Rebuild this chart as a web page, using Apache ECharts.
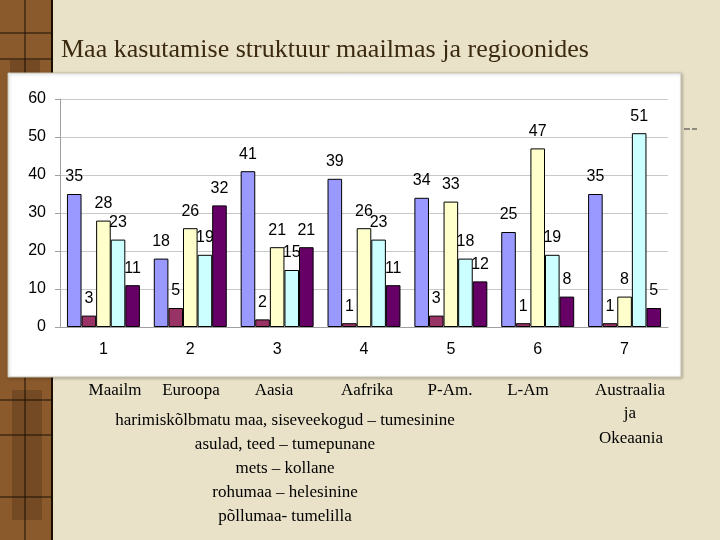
<!DOCTYPE html>
<html>
<head>
<meta charset="utf-8">
<script src="https://cdn.jsdelivr.net/npm/echarts@6/dist/echarts.min.js"></script>
<style>
  html, body { margin: 0; padding: 0; background: #e9e2c9; }
  #main { width: 720px; height: 540px; }
</style>
</head>
<body>
<div id="main"></div>
<script>
// kategooriad (regioonid 1..7)
var categories = ["1", "2", "3", "4", "5", "6", "7"];
var seriesNames = ["harimiskõlbmatu maa", "asulad, teed", "mets", "rohumaa", "põllumaa"];
var unusable = [35, 18, 41, 39, 34, 25, 35];
var settlements = [3, 5, 2, 1, 3, 1, 1];
var forest = [28, 26, 21, 26, 33, 47, 8];
var grassland = [23, 19, 15, 23, 18, 19, 51];
var cropland = [11, 32, 21, 11, 12, 8, 5];
var colors = ["#9999ff", "#993366", "#ffffcc", "#ccffff", "#660066"];
var regionLabels = ["Maailm", "Euroopa", "Aasia", "Aafrika", "P-Am.", "L-Am"];
var legendLines = [
  "harimiskõlbmatu maa, siseveekogud – tumesinine",
  "asulad, teed – tumepunane",
  "mets – kollane",
  "rohumaa – helesinine",
  "põllumaa- tumelilla"
];

var myChart = echarts.init(document.getElementById("main"));

var values = [unusable, settlements, forest, grassland, cropland];
var series = values.map(function (d, i) {
  return {
    name: seriesNames[i],
    type: "bar",
    data: d,
    barGap: "0%",
    barCategoryGap: "16%",
    itemStyle: { color: colors[i], borderColor: "#000", borderWidth: 1 },
    label: {
      show: true,
      position: "top",
      distance: 9,
      color: "#000",
      fontFamily: "Liberation Sans",
      fontSize: 16
    }
  };
});

var serif = "Liberation Serif";
var graphics = [
  // vasak pruun riba
  { type: "rect", z: -10, shape: { x: 0, y: 0, width: 52, height: 540 }, style: { fill: "#8a5a2c" } },
  { type: "rect", z: -9, shape: { x: 10, y: 60, width: 30, height: 120 }, style: { fill: "#5e3a1c", opacity: 0.5 } },
  { type: "rect", z: -9, shape: { x: 12, y: 390, width: 30, height: 130 }, style: { fill: "#5e3a1c", opacity: 0.5 } },
  { type: "line", z: -8, shape: { x1: 25, y1: 0, x2: 25, y2: 540 }, style: { stroke: "#1a0e04", lineWidth: 1 } },
  { type: "line", z: -8, shape: { x1: 52, y1: 0, x2: 52, y2: 540 }, style: { stroke: "#1a0e04", lineWidth: 2 } },
  { type: "line", z: -8, shape: { x1: 0, y1: 33, x2: 52, y2: 33 }, style: { stroke: "#1a0e04", lineWidth: 1 } },
  { type: "line", z: -8, shape: { x1: 0, y1: 59, x2: 52, y2: 59 }, style: { stroke: "#1a0e04", lineWidth: 1 } },
  { type: "line", z: -8, shape: { x1: 0, y1: 400, x2: 52, y2: 400 }, style: { stroke: "#1a0e04", lineWidth: 1 } },
  { type: "line", z: -8, shape: { x1: 0, y1: 435, x2: 52, y2: 435 }, style: { stroke: "#1a0e04", lineWidth: 1 } },
  { type: "line", z: -8, shape: { x1: 0, y1: 497, x2: 52, y2: 497 }, style: { stroke: "#1a0e04", lineWidth: 1 } },
  // valge diagrammikast
  { type: "rect", z: -5, shape: { x: 8, y: 73, width: 673, height: 304 },
    style: { fill: "#fff", stroke: "#c8c2b0", lineWidth: 1, shadowBlur: 3, shadowColor: "rgba(0,0,0,0.25)", shadowOffsetX: 1, shadowOffsetY: 1 } },
  { type: "line", shape: { x1: 684, y1: 129, x2: 690, y2: 129 }, style: { stroke: "#333", lineWidth: 1 } },
  { type: "line", shape: { x1: 692, y1: 129, x2: 697, y2: 129 }, style: { stroke: "#333", lineWidth: 1 } },
  // pealkiri
  { type: "text", left: 61, top: 37, style: { text: "Maa kasutamise struktuur maailmas ja regioonides", fill: "#3b2a10", font: "26px " + serif } }
];

var regionX = [115, 191, 274, 367, 450, 528];
regionLabels.forEach(function (t, i) {
  graphics.push({ type: "text", x: regionX[i], y: 391, style: { text: t, fill: "#000", font: "17px " + serif, align: "center", verticalAlign: "middle" } });
});
graphics.push({ type: "text", x: 630, y: 391, style: { text: "Austraalia", fill: "#000", font: "17px " + serif, align: "center", verticalAlign: "middle" } });
graphics.push({ type: "text", x: 630, y: 414, style: { text: "ja", fill: "#000", font: "17px " + serif, align: "center", verticalAlign: "middle" } });
graphics.push({ type: "text", x: 631, y: 439, style: { text: "Okeaania", fill: "#000", font: "17px " + serif, align: "center", verticalAlign: "middle" } });
legendLines.forEach(function (t, i) {
  graphics.push({ type: "text", x: 285, y: 421 + i * 24, style: { text: t, fill: "#000", font: "17px " + serif, align: "center", verticalAlign: "middle" } });
});

myChart.setOption({
  animation: false,
  backgroundColor: "#e9e2c9",
  grid: { left: 60, right: 52, top: 99, bottom: 213 },
  xAxis: {
    type: "category",
    data: categories,
    axisLine: { lineStyle: { color: "#a0a0a0" } },
    axisTick: { length: 5, lineStyle: { color: "#a0a0a0" } },
    axisLabel: { color: "#000", fontFamily: "Liberation Sans", fontSize: 16, margin: 15 }
  },
  yAxis: {
    type: "value",
    min: 0,
    max: 60,
    interval: 10,
    axisLine: { show: true, lineStyle: { color: "#a0a0a0" } },
    axisTick: { show: true, length: 5, lineStyle: { color: "#a0a0a0" } },
    axisLabel: { color: "#000", fontFamily: "Liberation Sans", fontSize: 16, margin: 14 },
    splitLine: { lineStyle: { color: "#c8c8c8" } }
  },
  graphic: graphics,
  series: series
});
</script>
</body>
</html>
